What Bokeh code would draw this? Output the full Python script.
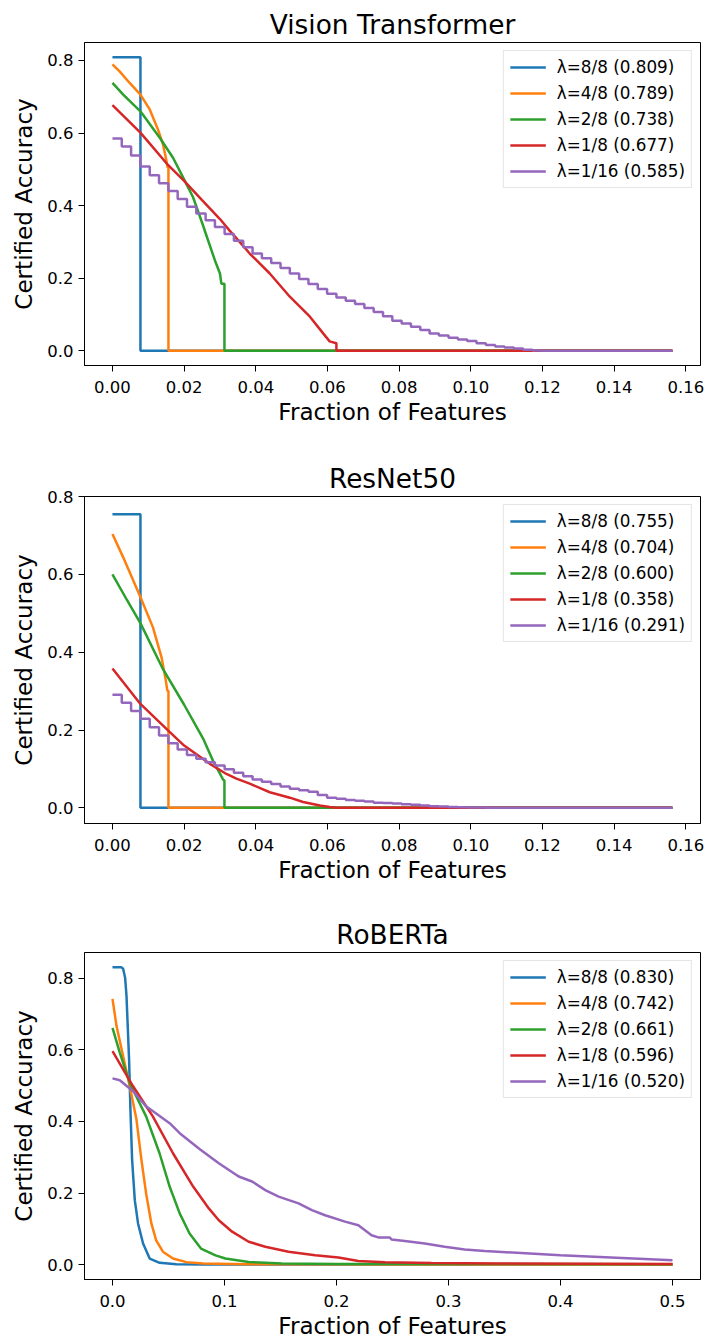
from bokeh.plotting import figure
from bokeh.layouts import column
from bokeh.models import Range1d, FixedTicker, PrintfTickFormatter
from bokeh.embed import file_html
from bokeh.resources import INLINE

COLORS = ["#1f77b4", "#ff7f0e", "#2ca02c", "#d62728", "#9467bd"]
FONT = "DejaVu Sans"

# shared staircase grid for the λ=1/16 curves of the image models
step_grid = [0.0, 0.0026, 0.0052, 0.0078, 0.0104, 0.0130, 0.0156, 0.0182, 0.0208, 0.0234,
             0.0260, 0.0286, 0.0313, 0.0339, 0.0365, 0.0391, 0.0417, 0.0443, 0.0469, 0.0495,
             0.0521, 0.0547, 0.0573, 0.0599, 0.0625, 0.0651, 0.0677, 0.0703, 0.0729, 0.0755,
             0.0781, 0.0807, 0.0833, 0.0859, 0.0885, 0.0911, 0.0938, 0.0964, 0.0990, 0.1016,
             0.1042, 0.1068, 0.1094, 0.1120, 0.1146, 0.1172, 0.1198]

# ---------------- Vision Transformer ----------------
vit_labels = ["λ=8/8 (0.809)", "λ=4/8 (0.789)", "λ=2/8 (0.738)", "λ=1/8 (0.677)", "λ=1/16 (0.585)"]
vit_x8 = [0.0, 0.0078125, 0.0078125, 0.15625]
vit_y8 = [0.809, 0.809, 0.0, 0.0]
vit_x4 = [0.0, 0.002, 0.0048, 0.0078, 0.0104, 0.0127, 0.0141, 0.0149, 0.0154, 0.015625, 0.015625, 0.15625]
vit_y4 = [0.789, 0.770, 0.738, 0.706, 0.665, 0.610, 0.569, 0.532, 0.505, 0.505, 0.0, 0.0]
vit_x2 = [0.0, 0.003, 0.0078, 0.0132, 0.0169, 0.0197, 0.0225, 0.0248, 0.0267, 0.0286, 0.0300, 0.0304, 0.03125, 0.03125, 0.15625]
vit_y2 = [0.738, 0.706, 0.660, 0.587, 0.532, 0.478, 0.423, 0.359, 0.304, 0.249, 0.213, 0.185, 0.185, 0.0, 0.0]
vit_x1 = [0.0, 0.0078, 0.0155, 0.020, 0.025, 0.030, 0.0327, 0.0355, 0.0383, 0.0439, 0.0495, 0.0551, 0.0588, 0.0606, 0.0625, 0.0625, 0.15625]
vit_y1 = [0.677, 0.601, 0.512, 0.468, 0.415, 0.363, 0.331, 0.300, 0.268, 0.213, 0.149, 0.094, 0.048, 0.026, 0.021, 0.0, 0.0]
vit_x16 = step_grid + [0.15625]
vit_y16 = [0.585, 0.563, 0.538, 0.508, 0.484, 0.462, 0.440, 0.418, 0.397, 0.378,
           0.360, 0.341, 0.322, 0.303, 0.285, 0.268, 0.255, 0.242, 0.228, 0.213,
           0.198, 0.184, 0.170, 0.157, 0.147, 0.138, 0.129, 0.118, 0.107, 0.095,
           0.083, 0.075, 0.066, 0.057, 0.048, 0.042, 0.036, 0.031, 0.027, 0.021,
           0.016, 0.012, 0.009, 0.006, 0.003, 0.001, 0.0, 0.0]

# ---------------- ResNet50 ----------------
res_labels = ["λ=8/8 (0.755)", "λ=4/8 (0.704)", "λ=2/8 (0.600)", "λ=1/8 (0.358)", "λ=1/16 (0.291)"]
res_x8 = [0.0, 0.0078125, 0.0078125, 0.15625]
res_y8 = [0.755, 0.755, 0.0, 0.0]
res_x4 = [0.0, 0.003, 0.0078, 0.0113, 0.0137, 0.0149, 0.0153, 0.015625, 0.015625, 0.15625]
res_y4 = [0.704, 0.644, 0.542, 0.464, 0.387, 0.327, 0.302, 0.300, 0.0, 0.0]
res_x2 = [0.0, 0.004, 0.0078, 0.0139, 0.020, 0.0253, 0.0281, 0.0300, 0.0309, 0.03125, 0.03125, 0.15625]
res_y2 = [0.600, 0.535, 0.475, 0.360, 0.265, 0.178, 0.120, 0.088, 0.072, 0.070, 0.0, 0.0]
res_x1 = [0.0, 0.0078, 0.0155, 0.020, 0.0272, 0.0318, 0.0346, 0.0383, 0.0439, 0.0495, 0.0532, 0.0579, 0.0606, 0.0625, 0.15625]
res_y1 = [0.358, 0.267, 0.199, 0.160, 0.113, 0.087, 0.075, 0.062, 0.040, 0.026, 0.015, 0.006, 0.002, 0.0, 0.0]
res_x16 = step_grid[:41] + [0.15625]
res_y16 = [0.291, 0.270, 0.249, 0.229, 0.207, 0.186, 0.166, 0.150, 0.136, 0.126,
           0.117, 0.109, 0.099, 0.090, 0.081, 0.073, 0.067, 0.061, 0.055, 0.049,
           0.045, 0.041, 0.033, 0.026, 0.023, 0.020, 0.018, 0.016, 0.013, 0.012,
           0.011, 0.009, 0.008, 0.006, 0.004, 0.003, 0.002, 0.0015, 0.001, 0.0005,
           0.0, 0.0]

# ---------------- RoBERTa ----------------
rob_labels = ["λ=8/8 (0.830)", "λ=4/8 (0.742)", "λ=2/8 (0.661)", "λ=1/8 (0.596)", "λ=1/16 (0.520)"]
rob_x8 = [0.0, 0.008, 0.0095, 0.0113, 0.0125, 0.0148, 0.016, 0.0175, 0.0199, 0.0228, 0.0273, 0.0332, 0.0421, 0.057, 0.080, 0.5]
rob_y8 = [0.830, 0.830, 0.826, 0.800, 0.750, 0.573, 0.433, 0.293, 0.180, 0.115, 0.059, 0.017, 0.005, 0.001, 0.0005, 0.0]
rob_x4 = [0.0, 0.0036, 0.0095, 0.0154, 0.0214, 0.0258, 0.030, 0.0347, 0.039, 0.045, 0.054, 0.066, 0.081, 0.120, 0.5]
rob_y4 = [0.742, 0.666, 0.582, 0.498, 0.405, 0.293, 0.199, 0.115, 0.068, 0.036, 0.017, 0.007, 0.003, 0.001, 0.0005]
rob_x2 = [0.0, 0.0065, 0.0154, 0.030, 0.042, 0.051, 0.060, 0.0688, 0.079, 0.092, 0.1008, 0.1216, 0.1513, 0.200, 0.5]
rob_y2 = [0.661, 0.592, 0.507, 0.414, 0.311, 0.218, 0.143, 0.087, 0.045, 0.026, 0.017, 0.0075, 0.003, 0.002, 0.001]
rob_x1 = [0.0, 0.0095, 0.0184, 0.036, 0.054, 0.072, 0.086, 0.0949, 0.1068, 0.1216, 0.1364, 0.1572, 0.181, 0.2017, 0.2195, 0.2433, 0.2848, 0.344, 0.5]
rob_y1 = [0.596, 0.545, 0.498, 0.414, 0.311, 0.218, 0.157, 0.124, 0.092, 0.064, 0.050, 0.036, 0.026, 0.020, 0.010, 0.0065, 0.0047, 0.003, 0.002]
rob_x16 = [0.0, 0.0065, 0.0184, 0.030, 0.051, 0.060, 0.0777, 0.0949, 0.1127, 0.1246, 0.1364, 0.1483, 0.1661, 0.178, 0.1898,
           0.2076, 0.2195, 0.2254, 0.2313, 0.2373, 0.2476, 0.2491, 0.261, 0.2788, 0.2966, 0.3144, 0.3322, 0.3441, 0.400, 0.450, 0.5]
rob_y16 = [0.520, 0.515, 0.484, 0.442, 0.395, 0.367, 0.323, 0.283, 0.246, 0.232, 0.208, 0.190, 0.171, 0.152, 0.138,
           0.120, 0.110, 0.096, 0.082, 0.076, 0.076, 0.070, 0.066, 0.059, 0.050, 0.042, 0.038, 0.036, 0.026, 0.019, 0.012]


def make_fig(title, height, top, bottom, xr, yr, xticks, xfmt, yticks):
    p = figure(width=707, height=height, x_range=Range1d(*xr), y_range=Range1d(*yr),
               output_backend="svg", toolbar_location=None, tools="",
               min_border_left=84, min_border_right=7, min_border_top=top, min_border_bottom=bottom)
    p.title.text = title
    p.title.align = "center"
    p.title.text_font = FONT
    p.title.text_font_size = "26.4px"
    p.title.text_font_style = "normal"
    p.title.text_color = "black"
    p.title.standoff = 5
    p.grid.visible = False
    p.outline_line_color = "black"
    p.outline_line_width = 1
    p.outline_line_alpha = 1
    p.xaxis.axis_label = "Fraction of Features"
    p.yaxis.axis_label = "Certified Accuracy"
    for ax in (p.xaxis[0], p.yaxis[0]):
        ax.axis_label_text_font = FONT
        ax.axis_label_text_font_size = "23.1px"
        ax.axis_label_text_font_style = "normal"
        ax.axis_label_text_color = "black"
        ax.major_label_text_font = FONT
        ax.major_label_text_font_size = "16.5px"
        ax.major_label_text_color = "black"
        ax.major_tick_out = 6
        ax.major_tick_in = 0
        ax.minor_tick_out = 0
        ax.minor_tick_in = 0
        ax.major_tick_line_color = "black"
        ax.axis_line_color = "black"
    p.xaxis[0].ticker = FixedTicker(ticks=xticks)
    p.xaxis[0].formatter = PrintfTickFormatter(format=xfmt)
    p.xaxis[0].major_label_standoff = 9
    p.xaxis[0].axis_label_standoff = 3
    p.yaxis[0].ticker = FixedTicker(ticks=yticks)
    p.yaxis[0].formatter = PrintfTickFormatter(format="%.1f")
    p.yaxis[0].major_label_standoff = 5
    p.yaxis[0].axis_label_standoff = 7
    return p


def add_series(p, series, labels, step_last=False):
    for i, ((xs, ys), lab) in enumerate(zip(series, labels)):
        if step_last and i == 4:
            p.step(xs, ys, mode="after", line_color=COLORS[i], line_width=2.5, legend_label=lab)
        else:
            p.line(xs, ys, line_color=COLORS[i], line_width=2.5, legend_label=lab)
    lg = p.legend[0]
    lg.location = "top_right"
    lg.margin = 8
    lg.padding = 6
    lg.spacing = 6
    lg.glyph_width = 36
    lg.glyph_height = 20
    lg.label_height = 20
    lg.label_standoff = 11
    lg.label_text_font = FONT
    lg.label_text_font_size = "16.8px"
    lg.label_text_color = "black"
    lg.border_line_color = "#cccccc"
    lg.border_line_width = 1
    lg.background_fill_alpha = 0.8


img_xticks = [0.0, 0.02, 0.04, 0.06, 0.08, 0.10, 0.12, 0.14, 0.16]
yt = [0.0, 0.2, 0.4, 0.6, 0.8]

p1 = make_fig("Vision Transformer", 446, 42, 81, (-0.0078, 0.1641), (-0.0405, 0.8495), img_xticks, "%.2f", yt)
add_series(p1, [(vit_x8, vit_y8), (vit_x4, vit_y4), (vit_x2, vit_y2), (vit_x1, vit_y1), (vit_x16, vit_y16)], vit_labels, step_last=True)

p2 = make_fig("ResNet50", 448, 50, 71, (-0.0078, 0.1641), (-0.0404, 0.8005), img_xticks, "%.2f", yt)
add_series(p2, [(res_x8, res_y8), (res_x4, res_y4), (res_x2, res_y2), (res_x1, res_y1), (res_x16, res_y16)], res_labels, step_last=True)

p3 = make_fig("RoBERTa", 448, 58, 63, (-0.025, 0.525), (-0.0415, 0.8715), [0.0, 0.1, 0.2, 0.3, 0.4, 0.5], "%.1f", yt)
add_series(p3, [(rob_x8, rob_y8), (rob_x4, rob_y4), (rob_x2, rob_y2), (rob_x1, rob_y1), (rob_x16, rob_y16)], rob_labels)

layout = column(p1, p2, p3, spacing=0)
open("out.html", "w").write(file_html(layout, INLINE))
